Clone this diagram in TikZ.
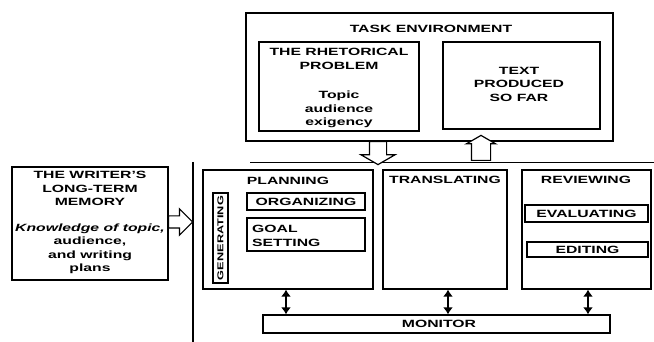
\documentclass[tikz,border=0pt]{standalone}
\usepackage{fontspec}
\setmainfont{Liberation Sans}[FakeStretch=1.5]
\usetikzlibrary{arrows.meta,shapes.arrows}

\begin{document}
\begin{tikzpicture}[x=1pt,y=-1pt,box/.style 2 args={draw,line width=1.3pt,minimum width=#1pt,minimum height=#2pt,inner sep=0pt},txt/.style={font=\bfseries\fontsize{10.5}{13.5}\selectfont,align=center,inner sep=0pt},hollow/.style={draw,line width=1.2pt,fill=white,single arrow,minimum width=0pt,inner xsep=0pt},link/.style={{Latex[length=7pt,width=10pt]}-{Latex[length=7pt,width=10pt]},line width=2.2pt}]
\useasboundingbox (0,0) rectangle (654,342);
\node[box={367}{128}] (task) at (429.5,77) {};
\node[txt] (tasklbl) at (431,29) {TASK ENVIRONMENT};
\node[box={160}{89}] (rhet) at (339,86.5) {};
\node[txt,anchor=north] (rhetlbl) at (339,48) {THE RHETORICAL\\PROBLEM\\[16pt]Topic\\audience\\exigency};
\node[box={157}{87}] (sofar) at (521.5,85.5) {};
\node[txt] (sofarlbl) at (519,84) {TEXT\\PRODUCED\\SO FAR};
\node[box={156}{113}] (mem) at (90,223.5) {};
\node[txt,anchor=north] (memlbl) at (90,171) {THE WRITER'S\\LONG-TERM\\MEMORY\\[12pt]{\itshape Knowledge of topic,}\\audience,\\and writing\\plans};
\draw[line width=1.3pt] (193,162) -- (193,342);
\draw[line width=0.8pt] (250,162) -- (654,162);
\node[hollow,rotate=-90,anchor=tail,minimum height=23pt,inner ysep=8pt,single arrow head extend=8.5pt,single arrow tip angle=120] (down) at (378,141) {};
\node[hollow,rotate=90,anchor=tail,minimum height=25pt,inner ysep=9pt,single arrow head extend=5pt,single arrow tip angle=120] (up) at (481,161) {};
\node[hollow,anchor=tail,minimum height=24pt,inner ysep=5.5pt,single arrow head extend=7pt] (fetch) at (168,222) {};
\node[box={170}{119}] (plan) at (288,229.5) {};
\node[txt] (planlbl) at (288,181) {PLANNING};
\node[box={15}{90}] (gen) at (220.5,238) {};
\node[txt,rotate=90,font=\bfseries\fontsize{8.5}{9}\selectfont] (genlbl) at (gen) {GENERATING};
\node[box={118}{17}] (org) at (306,201.5) {};
\node[txt] (orglbl) at (org) {ORGANIZING};
\node[box={118}{33}] (goal) at (306,234.5) {};
\node[txt,anchor=west,align=left] (goallbl) at (252,236) {GOAL\\SETTING};
\node[box={124}{119}] (trans) at (445,229.5) {};
\node[txt] (translbl) at (445,180) {TRANSLATING};
\node[box={129}{119}] (rev) at (586.5,229.5) {};
\node[txt] (revlbl) at (586,180) {REVIEWING};
\node[box={123}{17}] (eval) at (586.5,213.5) {};
\node[txt] (evallbl) at (eval) {EVALUATING};
\node[box={121}{15}] (edit) at (587.5,249.5) {};
\node[txt] (editlbl) at (edit) {EDITING};
\node[box={347}{18}] (mon) at (436.5,324) {};
\node[txt] (monlbl) at (439,324) {MONITOR};
\draw[link] ([xshift=-2pt]plan.south) -- ([xshift=-2pt]plan.south |- mon.north);
\draw[link] ([xshift=3pt]trans.south) -- ([xshift=3pt]trans.south |- mon.north);
\draw[link] ([xshift=1.5pt]rev.south) -- ([xshift=1.5pt]rev.south |- mon.north);
\end{tikzpicture}
\end{document}
